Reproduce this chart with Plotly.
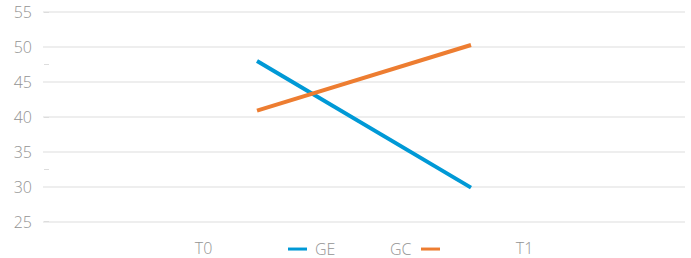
import plotly.graph_objects as go

x_labels = ["T0", "T1"]
ge_values = [48.0, 29.9]
gc_values = [40.9, 50.3]
series_names = ["GE", "GC"]
colors = ["#0099D6", "#ED7D31"]
y_ticks = [25, 30, 35, 40, 45, 50, 55]

FONT = "Open Sans"
GREY = "#939393"
TF = dict(family=FONT, size=16, color=GREY, weight=300)

fig = go.Figure()
fig.add_trace(go.Scatter(x=x_labels, y=[None, None], xaxis="x", yaxis="y",
                         showlegend=False, hoverinfo="skip"))
for name, vals, col in zip(series_names, [ge_values, gc_values], colors):
    fig.add_trace(go.Scatter(x=x_labels, y=vals, mode="lines", name=name,
                             line=dict(color=col, width=4),
                             xaxis="x2", yaxis="y", showlegend=False))

fig.add_trace(go.Scatter(x=[None], y=[None], xaxis="x", yaxis="y2",
                         showlegend=False, hoverinfo="skip"))

legend_y = -0.117
fig.add_shape(type="line", xref="paper", yref="paper",
              x0=(288-43)/642, x1=(307-43)/642, y0=legend_y, y1=legend_y,
              line=dict(color=colors[0], width=3))
fig.add_annotation(text=series_names[0], xref="paper", yref="paper",
                   x=(313-43)/642, y=legend_y, xanchor="left", yanchor="middle",
                   showarrow=False, font=TF)
fig.add_annotation(text=series_names[1], xref="paper", yref="paper",
                   x=(414-43)/642, y=legend_y, xanchor="right", yanchor="middle",
                   showarrow=False, font=TF)
fig.add_shape(type="line", xref="paper", yref="paper",
              x0=(421-43)/642, x1=(440-43)/642, y0=legend_y, y1=legend_y,
              line=dict(color=colors[1], width=3))

fig.update_layout(
    width=691, height=258,
    margin=dict(l=43, r=6, t=10, b=34, autoexpand=False),
    paper_bgcolor="white", plot_bgcolor="white",
    font=TF,
    xaxis=dict(type="category", categoryarray=x_labels, range=[-0.5, 1.5],
               showgrid=False, zeroline=False, showline=False, ticks="",
               ticklabelstandoff=13, automargin=False, tickfont=TF),
    xaxis2=dict(type="category", categoryarray=x_labels, range=[-1, 2],
                overlaying="x", visible=False),
    yaxis=dict(range=[24.7, 55.3], tickvals=y_ticks, showgrid=True,
               gridcolor="#eeeeee", gridwidth=2, zeroline=False,
               showline=False, ticks="", ticklabelstandoff=10, automargin=False,
               tickfont=TF),
    yaxis2=dict(range=[24.7, 55.3], overlaying="y", anchor="free", position=0,
                side="left", showgrid=False, zeroline=False, showline=False,
                ticks="inside", ticklen=5, tickcolor="#dddddd", tickwidth=1,
                tick0=25, dtick=7.5, showticklabels=False, automargin=False),
    showlegend=False,
)

fig.write_html("out.html", config={"displayModeBar": False},
               post_script="document.body.style.margin='0px';document.body.style.padding='0px';")
